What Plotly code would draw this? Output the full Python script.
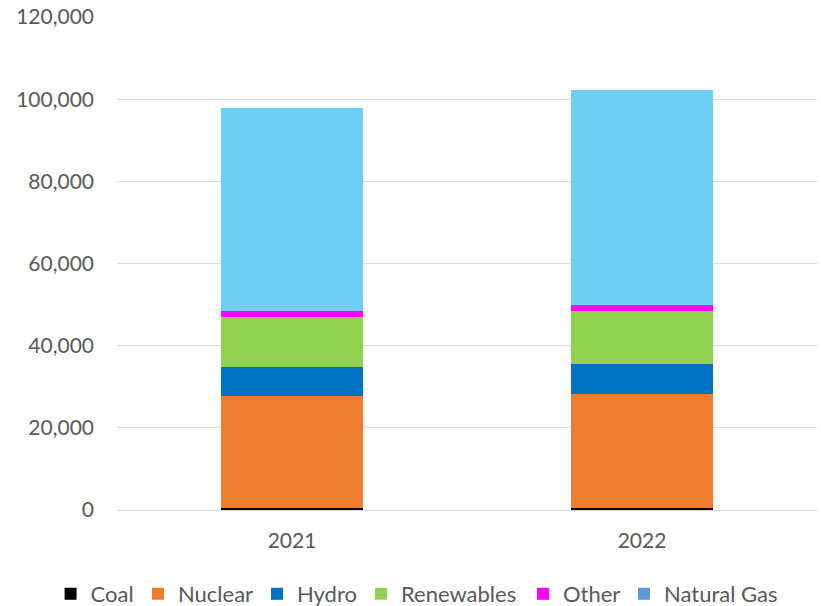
import plotly.graph_objects as go

years = ["2021", "2022"]
coal = [450, 450]
nuclear = [27300, 27900]
hydro = [7100, 7200]
renewables = [12100, 12900]
other = [1600, 1400]
natural_gas = [49300, 52400]

series = [
    ("Coal", coal, "#000000"),
    ("Nuclear", nuclear, "#ED7D31"),
    ("Hydro", hydro, "#0070C0"),
    ("Renewables", renewables, "#92D050"),
    ("Other", other, "#FF00FF"),
]

font_family = "Lato, 'Open Sans', sans-serif"
legend_names = ["legend", "legend2", "legend3", "legend4", "legend5", "legend6"]
text_starts = [92.6, 180, 299, 403, 565, 666]  # px positions of legend texts
plot_left, plot_w = 117, 700

fig = go.Figure()
for i, (name, vals, col) in enumerate(series):
    fig.add_trace(go.Bar(x=years, y=vals, name=name, legend=legend_names[i],
                         marker=dict(color=col, line=dict(width=0))))
# Natural gas bars (light blue) with a separate legend entry in the legend's blue
fig.add_trace(go.Bar(x=years, y=natural_gas, name="Natural Gas", showlegend=False,
                     marker=dict(color="#6DCFF6", line=dict(width=0))))
fig.add_trace(go.Bar(x=[years[0]], y=[None], name="Natural Gas", showlegend=True,
                     legend=legend_names[5],
                     marker=dict(color="#5B9BD5", line=dict(width=0))))

legend_layout = {}
for i, ln in enumerate(legend_names):
    legend_layout[ln] = dict(
        orientation="h", x=(text_starts[i] - 42 - plot_left) / plot_w, xanchor="left",
        y=-0.1704, yanchor="middle", font=dict(size=22, color="#595959"),
        itemwidth=30, bgcolor="rgba(0,0,0,0)", borderwidth=0)

fig.update_layout(
    barmode="stack",
    bargap=0.597,
    width=821, height=606,
    margin=dict(l=117, r=4, t=17, b=96, autoexpand=False),
    plot_bgcolor="white", paper_bgcolor="white",
    font=dict(family=font_family, size=21, color="#595959"),
    xaxis=dict(showgrid=False, showline=True, linecolor="#D9D9D9", linewidth=1,
               ticks="", ticklabelstandoff=12, tickfont=dict(size=21, color="#595959")),
    yaxis=dict(range=[0, 120000], dtick=20000, tickformat=",", showgrid=True,
               gridcolor="#D9D9D9", gridwidth=1, zeroline=False, showline=False,
               ticks="", ticklabelstandoff=22, tickfont=dict(size=21, color="#595959")),
    **legend_layout,
)

fig.write_html("out.html")
